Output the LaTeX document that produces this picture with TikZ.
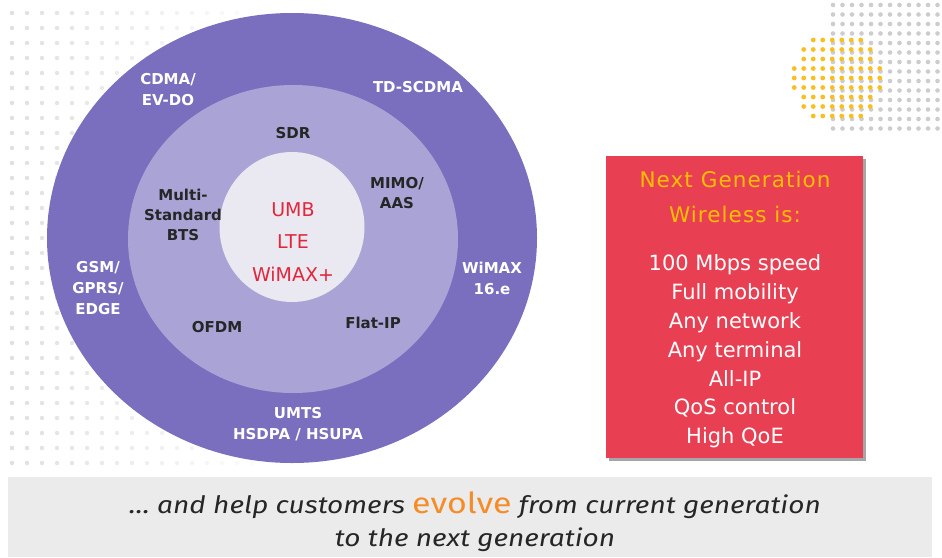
\documentclass[tikz,border=0pt]{standalone}
\usepackage{fontspec}
\setmainfont{DejaVu Sans}
\newfontfamily\bandfont[FakeStretch=1.17]{Fira Sans}
\newfontfamily\titlefont[LetterSpace=5]{DejaVu Sans}
\usetikzlibrary{shapes.geometric}

\definecolor{ringdark}{RGB}{122,110,190}
\definecolor{ringmid}{RGB}{170,164,214}
\definecolor{ringcore}{RGB}{234,232,240}
\definecolor{coretext}{RGB}{226,38,60}
\definecolor{boxred}{RGB}{232,64,82}
\definecolor{boxgold}{RGB}{255,190,0}
\definecolor{dotgrey}{RGB}{224,224,224}
\definecolor{dotgreytwo}{RGB}{205,205,208}
\definecolor{dotgold}{RGB}{250,190,30}
\definecolor{bandgrey}{RGB}{235,235,235}
\definecolor{evolveorange}{RGB}{245,140,40}

\tikzset{
  ring/.style={ellipse, inner sep=0pt},
  outerlabel/.style={text=white, font=\bfseries\fontsize{15}{21}\selectfont, align=center},
  midlabel/.style={text=black!85, font=\bfseries\fontsize{15}{20}\selectfont, align=center},
  corelabel/.style={text=coretext, font=\fontsize{19}{32.5}\selectfont, align=center},
  boxtitle/.style={text=boxgold, font=\titlefont\fontsize{21.5}{35}\selectfont, align=center},
  boxitem/.style={text=white, font=\fontsize{21}{28.8}\selectfont, align=center},
  bandtext/.style={text=black!85, font=\bandfont\itshape\fontsize{24}{30}\selectfont}
}

\begin{document}
\begin{tikzpicture}[x=1pt, y=-1pt]
    \useasboundingbox (0,0) rectangle (942,557);
    \fill[white] (0,0) rectangle (942,557);

    % Dot fields
    \foreach \i in {0,...,16} {
        \foreach \j in {0,...,30} {
            \pgfmathsetmacro{\op}{1-\i/18}
            \fill[dotgrey, opacity=\op] ({12+15*\i},{13+15*\j}) circle (2.2pt);
        }
    }
    \foreach \i in {0,...,11} {
        \foreach \j in {0,...,13} {
            \fill[dotgreytwo] ({833+9.5*\i},{5+9.5*\j}) circle (2.3pt);
        }
    }
    \foreach \i in {-5,...,4} {
        \foreach \j in {-5,...,4} {
            \pgfmathsetmacro{\dd}{veclen(9.5*\i+4.75, 9.5*\j)}
            \ifdim\dd pt<45pt
                \fill[dotgold] ({837+9.5*\i+4.75},{78+9.5*\j}) circle (2.4pt);
            \fi
        }
    }

    % Rings
    \node[ring, fill=ringdark, minimum width=490pt, minimum height=450pt] (outer) at (292,238) {};
    \node[ring, fill=ringmid, minimum width=330pt, minimum height=308pt] (middle) at (293,239) {};
    \node[ring, fill=ringcore, minimum width=145pt, minimum height=150pt] (core) at (292,227) {};

    % Outer ring
    \node[outerlabel] (cdma) at (168,90) {CDMA/\\EV-DO};
    \node[outerlabel] (tdscdma) at (418,87) {TD-SCDMA};
    \node[outerlabel] (gsm) at (98,288) {GSM/\\GPRS/\\EDGE};
    \node[outerlabel] (wimax) at (492,278) {WiMAX\\16.e};
    \node[outerlabel] (umts) at (298,424) {UMTS\\HSDPA / HSUPA};

    % Middle ring
    \node[midlabel] (sdr) at (293,133) {SDR};
    \node[midlabel] (bts) at (183,215) {Multi-\\Standard\\BTS};
    \node[midlabel] (mimo) at (397,193) {MIMO/\\AAS};
    \node[midlabel] (ofdm) at (217,327) {OFDM};
    \node[midlabel] (flatip) at (373,323) {Flat-IP};

    % Core
    \node[corelabel] (nextgen) at (293,242) {UMB\\LTE\\WiMAX+};

    % Red box
    \fill[black!35] (609,159) rectangle (866,461);
    \node[fill=boxred, minimum width=257pt, minimum height=302pt, inner sep=0pt] (wirelessbox) at (734.5,307) {};
    \node[boxtitle] (boxhead) at (735,197) {Next Generation\\Wireless is:};
    \node[boxitem] (boxlist) at (735,351.5) {100 Mbps speed\\Full mobility\\Any network\\Any terminal\\All-IP\\QoS control\\High QoE};

    % Bottom band
    \node[fill=bandgrey, minimum width=924pt, minimum height=80pt, inner sep=0pt] (band) at (470,517) {};
    \node[bandtext] (bandone) at (475,505) {… and help customers {\upshape\color{evolveorange}\fontsize{29}{30}\selectfont evolve} from current generation};
    \node[bandtext] (bandtwo) at (475,540) {to the next generation};

\end{tikzpicture}
\end{document}
